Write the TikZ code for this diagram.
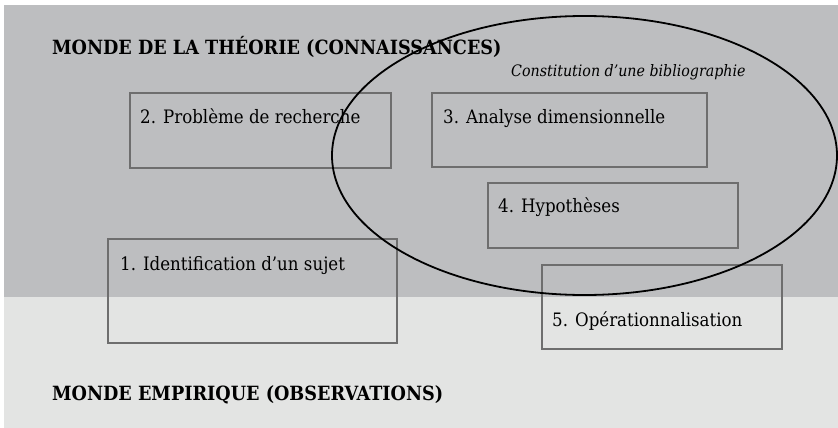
\documentclass[tikz,border=0pt]{standalone}
\usepackage{fontspec}
\setmainfont{DejaVu Serif Condensed}
\usetikzlibrary{shapes.geometric}
\definecolor{theorybg}{HTML}{BDBEC0}
\definecolor{empiricbg}{HTML}{E3E4E3}
\definecolor{boxline}{HTML}{6E6E6E}
\tikzset{
  stepbox/.style={draw=boxline, line width=1.6pt, fill=none},
  steplabel/.style={anchor=base west, inner sep=0pt, font=\fontsize{18.5}{22}\selectfont},
  worldlabel/.style={anchor=base west, inner sep=0pt, font=\fontsize{19.6}{23}\selectfont\bfseries},
}
\begin{document}
\begin{tikzpicture}[x=1pt, y=-1pt]
  \useasboundingbox (0,0) rectangle (838,428);
  % the two worlds
  \fill[white] (0,0) rectangle (838,428);
  \fill[theorybg] (4,5) rectangle (838,297);
  \fill[empiricbg] (4,297) rectangle (838,428);
  \node[worldlabel] (theory) at (52,55) {MONDE DE LA THÉORIE (CONNAISSANCES)};
  \node[worldlabel] (empiric) at (52,400) {MONDE EMPIRIQUE (OBSERVATIONS)};
  % steps of the research process
  \draw[stepbox] (108,239) rectangle (397,343);
  \node[steplabel] (s1) at (120,270) {1. Identification d’un sujet};
  \draw[stepbox] (130,93) rectangle (391,168);
  \node[steplabel] (s2) at (140,123) {2. Problème de recherche};
  \draw[stepbox] (432,93) rectangle (707,167);
  \node[steplabel] (s3) at (443,123) {3. Analyse dimensionnelle};
  \draw[stepbox] (488,183) rectangle (738,248);
  \node[steplabel] (s4) at (498,212) {4. Hypothèses};
  \draw[stepbox] (542,265) rectangle (782,349);
  \node[steplabel] (s5) at (552,326) {5. Opérationnalisation};
  % bibliography zone
  \node[draw=black, line width=1.8pt, ellipse, inner sep=0pt,
        minimum width=505pt, minimum height=279pt] (biblio) at (584.5,155.5) {};
  \node[anchor=base west, inner sep=0pt, font=\fontsize{15.8}{19}\selectfont\itshape]
        (bibtitle) at (511,77) {Constitution d’une bibliographie};
\end{tikzpicture}
\end{document}
